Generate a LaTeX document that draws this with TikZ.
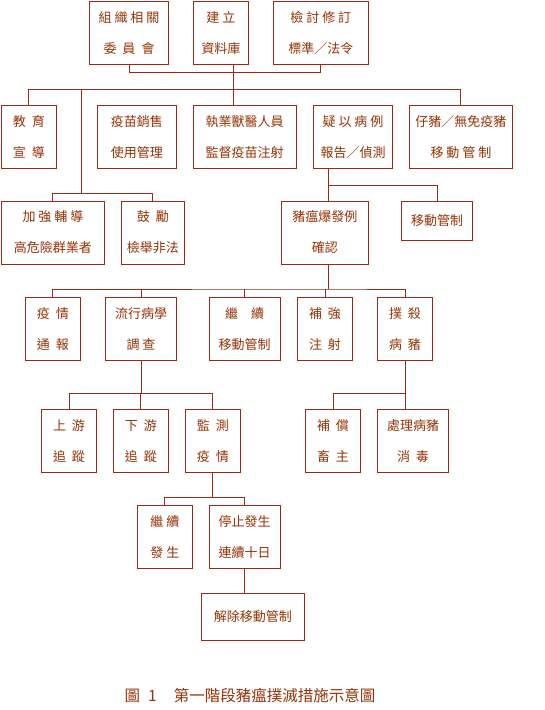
\documentclass[tikz,border=0pt]{standalone}
\usepackage{fontspec}
\newfontfamily\cjk{Noto Sans CJK TC}
\definecolor{brazowy}{RGB}{150,50,5}
\definecolor{linia}{RGB}{155,40,25}
\newcommand{\odstep}{\hspace{6pt}}

\begin{document}
\begin{tikzpicture}[x=1pt, y=-1pt,
    ramka/.style={draw=linia, line width=0.9pt, text=brazowy, inner sep=0pt, align=center,
        font=\cjk\fontsize{13}{31}\selectfont},
    polaczenie/.style={draw=linia, line width=0.9pt}]
        \useasboundingbox (0,0) rectangle (545,710);

        % Poziom 1
        \node[ramka, minimum width=78.5pt, minimum height=62.3pt] (com) at (129,32.8) {組 織 相 關\\委\odstep 員\odstep 會};
        \node[ramka, minimum width=55pt, minimum height=62.3pt] (db) at (220.8,32.8) {建 立\\資料庫};
        \node[ramka, minimum width=95.2pt, minimum height=62.3pt] (std) at (320.8,32.8) {檢 討 修 訂\\標準／法令};

        % Poziom 2
        \node[ramka, minimum width=55pt, minimum height=63pt] (edu) at (28.9,136.8) {教\odstep 育\\宣\odstep 導};
        \node[ramka, minimum width=79pt, minimum height=63pt] (vac) at (136.8,136.8) {疫苗銷售\\使用管理};
        \node[ramka, minimum width=102.8pt, minimum height=63pt] (vet) at (244.7,136.8) {執業獸醫人員\\監督疫苗注射};
        \node[ramka, minimum width=79pt, minimum height=63pt] (sus) at (353,136.8) {疑 以 病 例\\報告／偵測};
        \node[ramka, minimum width=102.8pt, minimum height=63pt] (pig) at (460.9,136.8) {仔豬／無免疫豬\\移 動 管 制};

        % Poziom 3
        \node[ramka, minimum width=103pt, minimum height=63pt] (high) at (52.9,232.5) {加 強 輔 導\\高危險群業者};
        \node[ramka, minimum width=63pt, minimum height=63pt] (rep) at (152.8,232.5) {鼓\odstep 勵\\檢舉非法};
        \node[ramka, minimum width=87.2pt, minimum height=63pt] (conf) at (324.8,232.5) {豬瘟爆發例\\確認};
        \node[ramka, minimum width=71pt, minimum height=38.6pt] (mov) at (437,221) {移動管制};

        % Poziom 4
        \node[ramka, minimum width=55pt, minimum height=62.7pt] (rpt) at (52.9,328.7) {疫\odstep 情\\通\odstep 報};
        \node[ramka, minimum width=70.5pt, minimum height=62.7pt] (epi) at (141,328.7) {流行病學\\調 查};
        \node[ramka, minimum width=71pt, minimum height=62.7pt] (cont) at (244.7,328.7) {繼　續\\移動管制};
        \node[ramka, minimum width=55pt, minimum height=62.7pt] (boost) at (325,328.7) {補\odstep 強\\注\odstep 射};
        \node[ramka, minimum width=55pt, minimum height=62.7pt] (cull) at (405,328.7) {撲\odstep 殺\\病\odstep 豬};

        % Poziom 5
        \node[ramka, minimum width=54.6pt, minimum height=62.7pt] (up) at (69,440.7) {上\odstep 游\\追\odstep 蹤};
        \node[ramka, minimum width=55pt, minimum height=62.7pt] (down) at (140.8,440.7) {下\odstep 游\\追\odstep 蹤};
        \node[ramka, minimum width=55pt, minimum height=62.7pt] (mon) at (212.8,440.7) {監\odstep 測\\疫\odstep 情};
        \node[ramka, minimum width=55pt, minimum height=62.7pt] (comp) at (333,440.7) {補\odstep 償\\畜\odstep 主};
        \node[ramka, minimum width=71pt, minimum height=62.7pt] (disp) at (413,440.7) {處理病豬\\消\odstep 毒};

        % Poziom 6 i 7
        \node[ramka, minimum width=55pt, minimum height=63pt] (cont2) at (164.8,536.8) {繼 續\\發 生};
        \node[ramka, minimum width=71pt, minimum height=63pt] (stop) at (244.7,536.8) {停止發生\\連續十日};
        \node[ramka, minimum width=103pt, minimum height=46.7pt] (lift) at (252.8,616.7) {解除移動管制};

        % Podpis
        \node[text=brazowy, font=\cjk\fontsize{15.5}{18}\selectfont] (cap) at (250,696) {圖\hspace{8pt}1\hspace{17pt}第一階段豬瘟撲滅措施示意圖};

        % Punkty wezlowe
        \coordinate (g1) at (233,72.7);
        \coordinate (g2) at (233,89.3);
        \coordinate (g3) at (81.3,89.3);
        \coordinate (g4) at (81.3,193.3);
        \coordinate (g5) at (328.8,185.3);
        \coordinate (g6) at (328.8,289);
        \coordinate (y7) at (0,393.3);
        \coordinate (y9) at (0,497.7);

        % Polaczenia
        \draw[polaczenie] (com.south) |- (g1) -| (std.south);
        \draw[polaczenie] (db.south -| g1) -- (vet.north -| g1);
        \draw[polaczenie] (edu.north) |- (g2) -| (pig.north);
        \draw[polaczenie] (g3) -- (g4);
        \draw[polaczenie] (high.north) |- (g4) -| (rep.north);
        \draw[polaczenie] (sus.south -| g5) -- (conf.north -| g5);
        \draw[polaczenie] (g5) -| (mov.north);
        \draw[polaczenie] (conf.south -| g6) -- (g6);
        \draw[polaczenie] (rpt.north) |- (g6) -| (cull.north);
        \draw[polaczenie] (epi.north) -- (epi.north |- g6);
        \draw[polaczenie] (cont.north) -- (cont.north |- g6);
        \draw[polaczenie] (boost.north) -- (boost.north |- g6);
        \draw[polaczenie] (epi.south) -- (epi.south |- y7);
        \draw[polaczenie] (up.north) |- (mon.north |- y7) -- (mon.north);
        \draw[polaczenie] (down.north) -- (down.north |- y7);
        \draw[polaczenie] (cull.south) -- (cull.south |- y7);
        \draw[polaczenie] (comp.north) |- (cull.south |- y7) -- (disp.north -| cull.south);
        \draw[polaczenie] (mon.south) -- (mon.south |- y9);
        \draw[polaczenie] (cont2.north) |- (stop.north |- y9) -- (stop.north);
        \draw[polaczenie] (stop.south) -- (lift.north -| stop.south);
    \end{tikzpicture}
\end{document}
